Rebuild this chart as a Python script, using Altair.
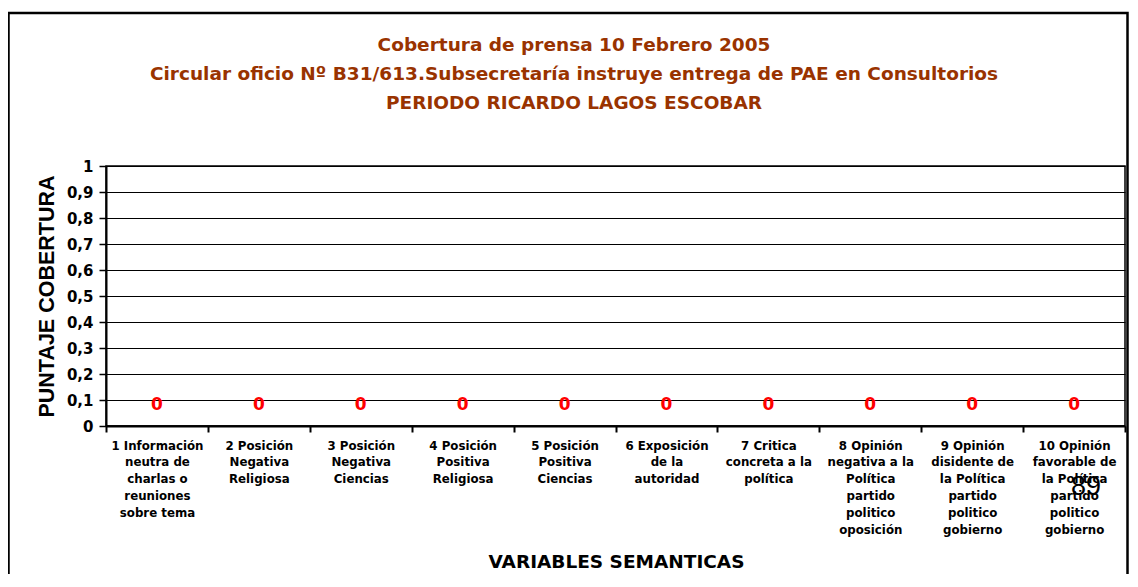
import altair as alt
import pandas as pd

# ---- data ----
categories = [
    "1 Información\nneutra de\ncharlas  o\nreuniones\nsobre tema",
    "2 Posición\nNegativa\nReligiosa",
    "3 Posición\nNegativa\nCiencias",
    "4 Posición\nPositiva\nReligiosa",
    "5 Posición\nPositiva\nCiencias",
    "6 Exposición\nde la\nautoridad",
    "7 Critica\nconcreta a la\npolítica",
    "8 Opinión\nnegativa a la\nPolítica\npartido\npolitico\noposición",
    "9 Opinión\ndisidente de\nla Política\npartido\npolitico\ngobierno",
    "10 Opinión\nfavorable de\nla Política\npartido\npolitico\ngobierno",
]
scores = [0, 0, 0, 0, 0, 0, 0, 0, 0, 0]
y_ticks = [0, 0.1, 0.2, 0.3, 0.4, 0.5, 0.6, 0.7, 0.8, 0.9, 1]
title_lines = [
    "Cobertura de prensa 10 Febrero 2005",
    "Circular oficio Nº B31/613.Subsecretaría instruye entrega de PAE en Consultorios",
    "PERIODO RICARDO LAGOS ESCOBAR",
]
y_title = "PUNTAJE COBERTURA"
x_title = "VARIABLES SEMANTICAS"
page_number = ["89"]

df = pd.DataFrame({"variable": categories, "puntaje": scores})

FONT = "DejaVu Sans"

x_enc = alt.X(
    "variable:N",
    sort=categories,
    scale=alt.Scale(paddingInner=0, paddingOuter=0),
    axis=alt.Axis(
        title=x_title,
        titleFont=FONT,
        titleFontSize=18.5,
        titleFontWeight="bold",
        titleColor="black",
        titleX=510,
        titleY=141,
        titleBaseline="alphabetic",
        labelAngle=0,
        labelFont=FONT,
        labelFontSize=11.8,
        labelFontWeight="bold",
        labelColor="black",
        labelLineHeight=16.8,
        labelPadding=8,
        labelOverlap=False,
        labelBound=False,
        labelLimit=300,
        labelExpr="split(datum.label, '\\n')",
        tickBand="extent",
        tickSize=6,
        tickWidth=2,
        tickColor="black",
        domainColor="black",
        domainWidth=2,
        grid=False,
    ),
)

y_enc = alt.Y(
    "puntaje:Q",
    scale=alt.Scale(domain=[0, 1], nice=False, zero=True),
    axis=alt.Axis(
        title=y_title,
        titleFont="Liberation Sans",
        titleFontSize=21.5,
        titleFontWeight="bold",
        titleColor="black",
        titleAngle=-90,
        titleX=-53,
        titleBaseline="alphabetic",
        values=y_ticks,
        labelExpr="replace(format(datum.value, '.1~f'), '.', ',')",
        labelFont=FONT,
        labelFontSize=15,
        labelFontWeight="bold",
        labelColor="black",
        labelPadding=6,
        tickSize=7,
        tickWidth=1.5,
        tickColor="black",
        domainColor="black",
        domainWidth=2,
        grid=True,
        gridColor="black",
        gridWidth=1,
        gridOpacity=1,
    ),
)

base = alt.Chart(df).encode(x=x_enc, y=y_enc)

bars = base.mark_bar(color="#9999FF", stroke="black", strokeWidth=1)

value_labels = base.mark_text(
    font=FONT,
    fontSize=17,
    fontWeight="bold",
    color="#FF0000",
    dy=-21,
    baseline="middle",
).encode(text=alt.Text("puntaje:Q", format="d"))

frame = (
    alt.Chart(pd.DataFrame({"k": [0]}))
    .mark_rect(fillOpacity=0, stroke="black", strokeWidth=2.5)
    .encode(
        x=alt.value(-97.5),
        x2=alt.value(1021.5),
        y=alt.value(-153),
        y2=alt.value(600),
    )
)

page = (
    alt.Chart(pd.DataFrame({"t": page_number}))
    .mark_text(font="Liberation Sans", fontSize=27, color="black", baseline="middle")
    .encode(text="t:N", x=alt.value(980), y=alt.value(321))
)

chart = (
    alt.layer(frame, bars, value_labels, page)
    .properties(
        width=1019,
        height=260,
        padding={"left": 98, "top": 158, "right": 4, "bottom": 148},
        autosize=alt.AutoSizeParams(type="none"),
        title=alt.TitleParams(
            text=title_lines,
            font=FONT,
            fontSize=18.5,
            fontWeight="bold",
            color="#993300",
            lineHeight=29,
            anchor="middle",
            frame="bounds",
            dx=6,
            offset=-100.5,
        ),
        background="white",
    )
    .configure_view(stroke="black", strokeWidth=1.5)
)

chart.save("out.html", embed_options={"renderer": "svg", "actions": False})
